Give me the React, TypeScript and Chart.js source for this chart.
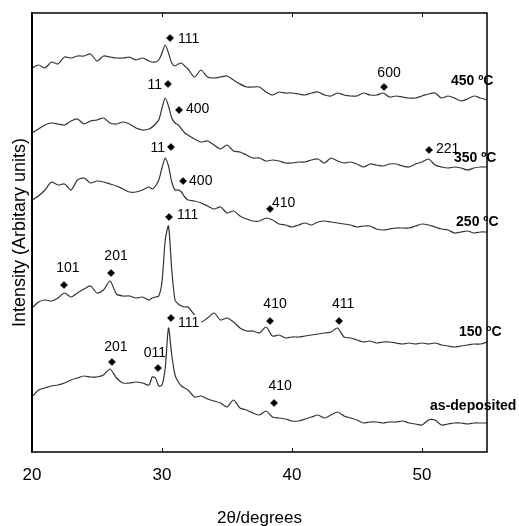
import { useEffect, useRef } from "react";
import { Chart, registerables } from "chart.js";

Chart.register(...registerables);

// 2θ sampling (degrees)
const twoTheta = [
  20, 20.5, 21, 21.5, 22, 22.5, 23, 23.5, 24, 24.5, 25, 25.5, 26, 26.5, 27, 27.5, 28, 28.5, 29,
  29.25, 29.5, 29.75, 30, 30.25, 30.5, 30.75, 31, 31.25, 31.5, 31.75, 32,
  32.5, 33, 33.5, 34, 34.5, 35, 35.5, 36, 36.5, 37, 37.5, 38, 38.5, 39, 39.5, 40, 40.5, 41, 41.5,
  42, 42.5, 43, 43.5, 44, 44.5, 45, 45.5, 46, 46.5, 47, 47.5, 48, 48.5, 49, 49.5, 50, 50.5, 51,
  51.5, 52, 52.5, 53, 53.5, 54, 54.5, 55,
];

// Stacked intensities (arbitrary units, offset per pattern)
const pattern450 = [
  384, 387, 384, 390, 388, 395, 394, 396, 396, 398, 391, 396, 395, 394, 394, 395, 392, 394, 391,
  390, 390, 392, 399, 407, 399, 389, 386, 388, 389, 386, 383,
  375, 382, 375, 374, 375, 376, 372, 368, 365, 365, 365, 360, 357, 360, 359, 359, 358, 357, 359,
  360, 357, 356, 359, 357, 356, 356, 359, 357, 357, 359, 355, 356, 355, 354, 354, 356, 358, 359,
  354, 356, 354, 351, 353, 356, 354, 352,
];
const pattern350 = [
  319, 323, 327, 329, 328, 327, 331, 333, 328, 331, 332, 334, 329, 328, 330, 328, 324, 322, 323,
  325, 328, 332, 344, 354, 346, 334, 329, 327, 323, 319, 317,
  313, 310, 311, 307, 303, 307, 301, 300, 297, 294, 294, 291, 292, 291, 289, 289, 290, 290, 292,
  293, 289, 294, 291, 289, 290, 288, 285, 288, 287, 286, 288, 288, 286, 285, 288, 290, 293, 287,
  285, 284, 285, 284, 282, 284, 285, 285,
];
const pattern250 = [
  252, 256, 262, 270, 267, 268, 262, 272, 274, 269, 271, 270, 268, 266, 263, 260, 260, 262, 265,
  263, 266, 272, 284, 294, 286, 270, 262, 262, 260, 255, 252,
  251, 249, 246, 243, 245, 239, 241, 236, 233, 231, 231, 234, 232, 228, 227, 225, 227, 229, 227,
  230, 231, 230, 229, 228, 227, 225, 226, 226, 223, 222, 223, 224, 224, 224, 226, 228, 227, 225,
  223, 222, 219, 220, 221, 219, 220, 220,
];
const pattern150 = [
  144, 150, 152, 151, 154, 159, 155, 159, 163, 166, 159, 162, 171, 158, 156, 156, 154, 155, 152,
  154, 155, 156, 170, 212, 226, 182, 152, 148, 146, 145, 145,
  137, 130, 134, 139, 132, 134, 130, 124, 121, 121, 119, 125, 116, 117, 114, 115, 115, 116, 117,
  118, 119, 120, 124, 115, 114, 112, 110, 111, 109, 110, 110, 109, 108, 109, 108, 109, 108, 109,
  107, 106, 105, 106, 107, 108, 108, 110,
];
const patternAsDeposited = [
  55, 62, 64, 66, 67, 69, 72, 74, 76, 75, 75, 77, 83, 74, 69, 69, 70, 69, 67,
  75, 74, 66, 67, 84, 124, 97, 77, 70, 66, 64, 62,
  55, 56, 53, 51, 49, 45, 52, 44, 42, 39, 37, 41, 35, 34, 33, 31, 31, 33, 35,
  37, 34, 37, 40, 36, 34, 32, 29, 30, 30, 29, 30, 30, 31, 29, 28, 27, 32, 32,
  27, 28, 29, 29, 28, 29, 29, 29,
];

const xTicks = [20, 30, 40, 50];

// Reflection markers (♦) and their hkl labels
const peakLabels = ["111", "600", "11", "400", "221", "11", "400", "410", "101", "201", "111", "410", "411", "201", "011", "111", "410"];
const peakTheta = [30.62, 47.08, 30.46, 31.31, 50.54, 30.69, 31.62, 38.31, 22.46, 26.08, 30.54, 38.31, 43.62, 26.15, 29.69, 30.69, 38.62];
const peakIntensity = [414, 365, 368, 342, 302, 305, 271, 243, 167, 179, 235, 131, 131, 90, 84, 134, 49];

// Pattern names shown at the right-hand side
const traceNames = ["450 ºC", "350 ºC", "250 ºC", "150 ºC", "as-deposited"];
const traceNameTheta = [52.23, 52.46, 52.62, 52.85, 50.62];
const traceNameIntensity = [372, 295, 231, 121, 47];

// styling of label placement (pixel offsets)
const peakLabelStyle = [
  { dx: 8, dy: 0, align: "left" },
  { dx: 5, dy: -15, align: "center" },
  { dx: -6, dy: 0, align: "right" },
  { dx: 7, dy: -2, align: "left" },
  { dx: 7, dy: -2, align: "left" },
  { dx: -6, dy: 0, align: "right" },
  { dx: 6, dy: -1, align: "left" },
  { dx: 2, dy: -7, align: "left" },
  { dx: 4, dy: -18, align: "center" },
  { dx: 5, dy: -18, align: "center" },
  { dx: 8, dy: -3, align: "left" },
  { dx: 5, dy: -18, align: "center" },
  { dx: 4, dy: -18, align: "center" },
  { dx: 4, dy: -16, align: "center" },
  { dx: -3, dy: -16, align: "center" },
  { dx: 7, dy: 4, align: "left", bg: true },
  { dx: 6, dy: -18, align: "center" },
];

const FONT = "'Liberation Sans', Arial, Helvetica, sans-serif";

const annotationPlugin = {
  id: "xrdAnnotations",
  afterDatasetsDraw(chart: any) {
    const { ctx, chartArea, scales } = chart;
    const { left, right, top, bottom } = chartArea;
    const x = scales.x;
    const y = scales.y;
    ctx.save();

    // peak labels
    ctx.font = `14px ${FONT}`;
    ctx.textBaseline = "middle";
    ctx.textAlign = "left";
    peakLabels.forEach((t, i) => {
      const st: any = peakLabelStyle[i];
      const px = x.getPixelForValue(peakTheta[i]) + st.dx;
      const py = y.getPixelForValue(peakIntensity[i]) + st.dy;
      const w = ctx.measureText(t).width;
      const lx = st.align === "left" ? px : st.align === "right" ? px - w : px - w / 2;
      if (st.bg) {
        ctx.fillStyle = "#fff";
        ctx.fillRect(lx - 1, py - 7, w + 3, 14);
      }
      ctx.fillStyle = "#000";
      ctx.fillText(t, lx, py + 1);
    });

    // pattern names
    ctx.font = `bold 14px ${FONT}`;
    traceNames.forEach((t, i) => {
      const px = x.getPixelForValue(traceNameTheta[i]);
      const py = y.getPixelForValue(traceNameIntensity[i]);
      ctx.fillStyle = "#000";
      ctx.fillText(t, px, py + 1);
    });

    // frame
    ctx.strokeStyle = "#000";
    ctx.lineWidth = 1.5;
    ctx.strokeRect(left, top, right - left, bottom - top);
    ctx.lineWidth = 2;
    ctx.beginPath();
    ctx.moveTo(left, top - 0.75);
    ctx.lineTo(left, bottom + 0.75);
    ctx.stroke();

    // inward ticks
    ctx.lineWidth = 1;
    xTicks.forEach((v) => {
      if (v === xTicks[0]) return;
      const px = Math.round(x.getPixelForValue(v)) + 0.5;
      ctx.beginPath();
      ctx.moveTo(px, bottom);
      ctx.lineTo(px, bottom - 4);
      ctx.moveTo(px, top);
      ctx.lineTo(px, top + 4);
      ctx.stroke();
    });
    ctx.restore();
  },
};

export default function App() {
  const canvasRef = useRef<HTMLCanvasElement | null>(null);

  useEffect(() => {
    if (!canvasRef.current) return;
    const series = [pattern450, pattern350, pattern250, pattern150, patternAsDeposited];
    const lineSets = series.map((s) => ({
      type: "line" as const,
      data: twoTheta.map((t, i) => ({ x: t, y: s[i] })),
      borderColor: "#333333",
      borderWidth: 1.2,
      pointRadius: 0,
      tension: 0.25,
      fill: false,
    }));
    const markerSet = {
      type: "line" as const,
      data: peakTheta.map((t, i) => ({ x: t, y: peakIntensity[i] })),
      showLine: false,
      pointStyle: "rectRot",
      pointRadius: 3.6,
      pointBackgroundColor: "#000",
      pointBorderColor: "#000",
      pointBorderWidth: 0.5,
      clip: false,
    };

    const chart = new Chart(canvasRef.current, {
      type: "line",
      data: { datasets: [...lineSets, markerSet] as any },
      options: {
        animation: false,
        responsive: false,
        maintainAspectRatio: false,
        devicePixelRatio: 1,
        layout: { padding: { top: 13, right: 32, left: 0, bottom: 0 } },
        plugins: { legend: { display: false }, tooltip: { enabled: false } },
        events: [],
        scales: {
          x: {
            type: "linear",
            min: 20,
            max: 55,
            afterBuildTicks: (axis: any) => {
              axis.ticks = xTicks.map((v) => ({ value: v }));
            },
            ticks: {
              font: { size: 17, family: FONT },
              color: "#000",
              padding: 13,
              maxRotation: 0,
              autoSkip: false,
            },
            grid: { display: false, drawTicks: false },
            border: { display: false },
            title: {
              display: true,
              text: "2θ/degrees",
              font: { size: 17, family: FONT },
              color: "#000",
              padding: { top: 0, bottom: -3 },
            },
            afterFit: (s: any) => {
              s.height = 74;
            },
          },
          y: {
            type: "linear",
            min: 0,
            max: 439,
            ticks: { display: false },
            grid: { display: false, drawTicks: false },
            border: { display: false },
            title: {
              display: true,
              text: "Intensity (Arbitary units)",
              font: { size: 18, family: FONT },
              color: "#000",
              padding: { top: 9, bottom: 0 },
            },
            afterFit: (s: any) => {
              s.width = 32;
            },
          },
        },
      } as any,
      plugins: [annotationPlugin],
    });
    return () => chart.destroy();
  }, []);

  return (
    <div style={{ position: "absolute", left: 0, top: 0, width: 519, height: 526, background: "#fff" }}>
      <canvas ref={canvasRef} width={519} height={526} style={{ display: "block" }} />
    </div>
  );
}
